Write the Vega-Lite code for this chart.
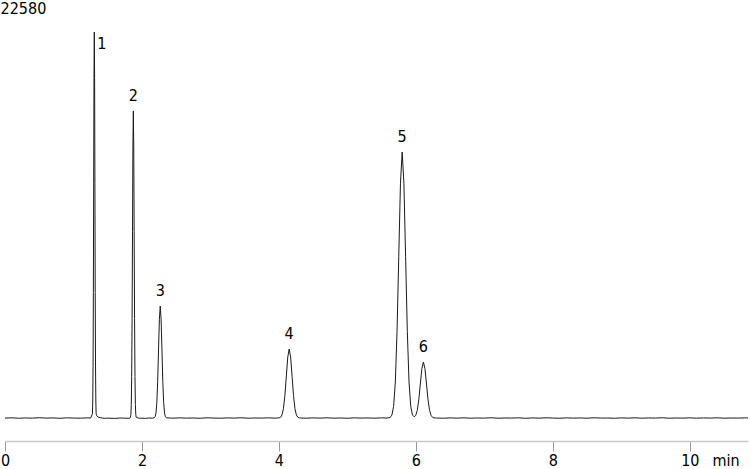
{
  "$schema": "https://vega.github.io/schema/vega-lite/v6.json",
  "autosize": "none",
  "width": 743,
  "height": 409,
  "padding": {"left": 5, "top": 32, "right": 2, "bottom": 28},
  "background": "white",
  "config": {
    "view": {"stroke": null},
    "font": "DejaVu Sans Condensed, DejaVu Sans",
    "text": {"font": "DejaVu Sans Condensed, DejaVu Sans", "fontSize": 16, "color": "black"}
  },
  "datasets": {
    "trace": [
      {"t": 0, "s": 1265}, {"t": 0.1, "s": 1280}, {"t": 0.2, "s": 1258}, {"t": 0.3, "s": 1272},
      {"t": 0.4, "s": 1262}, {"t": 0.5, "s": 1285}, {"t": 0.6, "s": 1266}, {"t": 0.7, "s": 1274},
      {"t": 0.8, "s": 1255}, {"t": 0.9, "s": 1278}, {"t": 1.0, "s": 1268}, {"t": 1.1, "s": 1260},
      {"t": 1.2, "s": 1276}, {"t": 1.25, "s": 1268},
      {"t": 1.277, "s": 1505}, {"t": 1.2815, "s": 2205}, {"t": 1.286, "s": 4150}, {"t": 1.2905, "s": 8190},
      {"t": 1.295, "s": 14195}, {"t": 1.2995, "s": 20075}, {"t": 1.304, "s": 22580}, {"t": 1.3085, "s": 20075},
      {"t": 1.313, "s": 14195}, {"t": 1.3175, "s": 8190}, {"t": 1.322, "s": 4150}, {"t": 1.3265, "s": 2205},
      {"t": 1.331, "s": 1505}, {"t": 1.34, "s": 1400}, {"t": 1.36, "s": 1320}, {"t": 1.4, "s": 1285},
      {"t": 1.45, "s": 1250}, {"t": 1.5, "s": 1262}, {"t": 1.6, "s": 1248}, {"t": 1.7, "s": 1270},
      {"t": 1.8, "s": 1255}, {"t": 1.825, "s": 1266},
      {"t": 1.832, "s": 1307}, {"t": 1.838, "s": 1458}, {"t": 1.844, "s": 2014}, {"t": 1.85, "s": 3563},
      {"t": 1.856, "s": 6774}, {"t": 1.862, "s": 11550}, {"t": 1.868, "s": 16228}, {"t": 1.874, "s": 18220},
      {"t": 1.88, "s": 16228}, {"t": 1.886, "s": 11550}, {"t": 1.892, "s": 6774}, {"t": 1.898, "s": 3563},
      {"t": 1.904, "s": 2014}, {"t": 1.91, "s": 1458}, {"t": 1.916, "s": 1307},
      {"t": 1.93, "s": 1290}, {"t": 1.96, "s": 1255}, {"t": 2.0, "s": 1262}, {"t": 2.05, "s": 1248},
      {"t": 2.1, "s": 1271}, {"t": 2.15, "s": 1260},
      {"t": 2.1795, "s": 1284}, {"t": 2.192, "s": 1339}, {"t": 2.2045, "s": 1541}, {"t": 2.217, "s": 2107},
      {"t": 2.2295, "s": 3278}, {"t": 2.242, "s": 5020}, {"t": 2.2545, "s": 6727}, {"t": 2.267, "s": 7453},
      {"t": 2.2795, "s": 6727}, {"t": 2.292, "s": 5020}, {"t": 2.3045, "s": 3278}, {"t": 2.317, "s": 2107},
      {"t": 2.3295, "s": 1541}, {"t": 2.342, "s": 1339}, {"t": 2.3545, "s": 1284},
      {"t": 2.38, "s": 1275}, {"t": 2.45, "s": 1260}, {"t": 2.55, "s": 1278}, {"t": 2.65, "s": 1262},
      {"t": 2.75, "s": 1270}, {"t": 2.85, "s": 1255}, {"t": 2.95, "s": 1281}, {"t": 3.05, "s": 1266},
      {"t": 3.15, "s": 1259}, {"t": 3.25, "s": 1276}, {"t": 3.35, "s": 1264}, {"t": 3.45, "s": 1283},
      {"t": 3.55, "s": 1258}, {"t": 3.65, "s": 1272}, {"t": 3.75, "s": 1265}, {"t": 3.85, "s": 1279},
      {"t": 3.95, "s": 1262},
      {"t": 4.003, "s": 1278}, {"t": 4.024, "s": 1312}, {"t": 4.045, "s": 1437}, {"t": 4.066, "s": 1785},
      {"t": 4.087, "s": 2507}, {"t": 4.108, "s": 3580}, {"t": 4.129, "s": 4631}, {"t": 4.15, "s": 5079},
      {"t": 4.171, "s": 4631}, {"t": 4.192, "s": 3580}, {"t": 4.213, "s": 2507}, {"t": 4.234, "s": 1785},
      {"t": 4.255, "s": 1437}, {"t": 4.276, "s": 1312}, {"t": 4.297, "s": 1278},
      {"t": 4.32, "s": 1270}, {"t": 4.4, "s": 1258}, {"t": 4.5, "s": 1276}, {"t": 4.6, "s": 1263},
      {"t": 4.7, "s": 1281}, {"t": 4.8, "s": 1260}, {"t": 4.9, "s": 1270}, {"t": 5.0, "s": 1255},
      {"t": 5.1, "s": 1277}, {"t": 5.2, "s": 1266}, {"t": 5.3, "s": 1272}, {"t": 5.4, "s": 1259},
      {"t": 5.5, "s": 1279}, {"t": 5.58, "s": 1268},
      {"t": 5.625, "s": 1302}, {"t": 5.65, "s": 1433}, {"t": 5.675, "s": 1915}, {"t": 5.7, "s": 3257},
      {"t": 5.725, "s": 6038}, {"t": 5.75, "s": 10177}, {"t": 5.775, "s": 14230}, {"t": 5.8, "s": 15955},
      {"t": 5.825, "s": 14230}, {"t": 5.85, "s": 10177}, {"t": 5.875, "s": 6038}, {"t": 5.9, "s": 3257},
      {"t": 5.925, "s": 1915}, {"t": 5.95, "s": 1440}, {"t": 5.975, "s": 1336}, {"t": 5.9975, "s": 1412},
      {"t": 6.02, "s": 1688}, {"t": 6.0425, "s": 2274}, {"t": 6.065, "s": 3145}, {"t": 6.0875, "s": 3998},
      {"t": 6.11, "s": 4361}, {"t": 6.1325, "s": 3998}, {"t": 6.155, "s": 3145}, {"t": 6.1775, "s": 2274},
      {"t": 6.2, "s": 1688}, {"t": 6.2225, "s": 1406}, {"t": 6.245, "s": 1304}, {"t": 6.2675, "s": 1277},
      {"t": 6.3, "s": 1268}, {"t": 6.4, "s": 1258}, {"t": 6.5, "s": 1276}, {"t": 6.6, "s": 1262},
      {"t": 6.7, "s": 1280}, {"t": 6.8, "s": 1259}, {"t": 6.9, "s": 1271}, {"t": 7.0, "s": 1264},
      {"t": 7.1, "s": 1283}, {"t": 7.2, "s": 1257}, {"t": 7.3, "s": 1270}, {"t": 7.4, "s": 1266},
      {"t": 7.5, "s": 1279}, {"t": 7.6, "s": 1255}, {"t": 7.7, "s": 1273}, {"t": 7.8, "s": 1262},
      {"t": 7.9, "s": 1281}, {"t": 8.0, "s": 1268}, {"t": 8.1, "s": 1256}, {"t": 8.2, "s": 1277},
      {"t": 8.3, "s": 1264}, {"t": 8.4, "s": 1272}, {"t": 8.5, "s": 1258}, {"t": 8.6, "s": 1282},
      {"t": 8.7, "s": 1266}, {"t": 8.8, "s": 1270}, {"t": 8.9, "s": 1255}, {"t": 9.0, "s": 1276},
      {"t": 9.1, "s": 1263}, {"t": 9.2, "s": 1279}, {"t": 9.3, "s": 1260}, {"t": 9.4, "s": 1272},
      {"t": 9.5, "s": 1266}, {"t": 9.6, "s": 1284}, {"t": 9.7, "s": 1258}, {"t": 9.8, "s": 1271},
      {"t": 9.9, "s": 1264}, {"t": 10.0, "s": 1278}, {"t": 10.1, "s": 1261}, {"t": 10.2, "s": 1273},
      {"t": 10.3, "s": 1266}, {"t": 10.4, "s": 1280}, {"t": 10.5, "s": 1259}, {"t": 10.6, "s": 1270},
      {"t": 10.7, "s": 1263}, {"t": 10.8, "s": 1276}, {"t": 10.85, "s": 1268}
    ],
    "peaks": [
      {"peak": "1", "t": 1.304, "s": 22580},
      {"peak": "2", "t": 1.874, "s": 18220},
      {"peak": "3", "t": 2.267, "s": 7453},
      {"peak": "4", "t": 4.15, "s": 5079},
      {"peak": "5", "t": 5.8, "s": 15955},
      {"peak": "6", "t": 6.11, "s": 4361}
    ]
  },
  "layer": [
    {
      "data": {"name": "trace"},
      "mark": {"type": "line", "color": "#1a1a1a", "strokeWidth": 1, "clip": false},
      "encoding": {
        "x": {
          "field": "t",
          "type": "quantitative",
          "scale": {"domain": [0, 10.85], "nice": false, "zero": false},
          "axis": {
            "values": [0, 2, 4, 6, 8, 10],
            "format": "d",
            "grid": false,
            "domainColor": "#c8c8c8",
            "domainWidth": 1.5,
            "tickColor": "#9a9a9a",
            "tickSize": 10,
            "tickWidth": 1,
            "labelFont": "DejaVu Sans Condensed, DejaVu Sans",
            "labelFontSize": 16,
            "labelColor": "black",
            "labelBaseline": "alphabetic",
            "labelPadding": 14,
            "labelFlush": false,
            "labelOverlap": false,
            "title": "min",
            "titleFont": "DejaVu Sans Condensed, DejaVu Sans",
            "titleFontSize": 16,
            "titleFontWeight": "normal",
            "titleColor": "black",
            "titleAlign": "left",
            "titleAnchor": null,
            "titleBaseline": "alphabetic",
            "titleX": 707,
            "titleY": 24
          }
        },
        "y": {
          "field": "s",
          "type": "quantitative",
          "scale": {"domain": [0, 22580], "nice": false, "zero": false},
          "axis": {
            "orient": "left",
            "values": [22580],
            "format": "d",
            "grid": false,
            "domain": false,
            "ticks": false,
            "tickSize": 0,
            "title": null,
            "labelAlign": "left",
            "labelBaseline": "alphabetic",
            "labelPadding": 5,
            "labelOffset": -19,
            "labelFont": "DejaVu Sans Condensed, DejaVu Sans",
            "labelFontSize": 16,
            "labelColor": "black",
            "labelBound": false,
            "labelFlush": false,
            "labelOverlap": false
          }
        }
      }
    },
    {
      "data": {"name": "peaks"},
      "transform": [{"filter": "datum.peak != '1'"}],
      "mark": {"type": "text", "baseline": "alphabetic", "align": "center", "dy": -10},
      "encoding": {
        "x": {"field": "t", "type": "quantitative"},
        "y": {"field": "s", "type": "quantitative"},
        "text": {"field": "peak"}
      }
    },
    {
      "data": {"name": "peaks"},
      "transform": [{"filter": "datum.peak == '1'"}],
      "mark": {"type": "text", "baseline": "alphabetic", "align": "left", "dx": 3, "dy": 17},
      "encoding": {
        "x": {"field": "t", "type": "quantitative"},
        "y": {"field": "s", "type": "quantitative"},
        "text": {"field": "peak"}
      }
    }
  ]
}
